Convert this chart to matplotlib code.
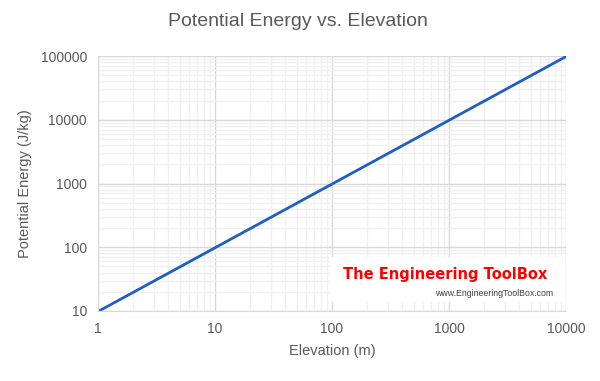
import matplotlib
matplotlib.use("Agg")
import matplotlib.pyplot as plt
from matplotlib import font_manager
from matplotlib.ticker import LogLocator, FixedLocator, NullFormatter

elevation = [1, 10, 100, 1000, 10000]
energy = [9.81, 98.1, 981, 9810, 98100]
xticks = [1, 10, 100, 1000, 10000]
yticks = [10, 100, 1000, 10000, 100000]

plt.rcParams['font.family'] = ['Liberation Sans', 'DejaVu Sans']
fig = plt.figure(figsize=(6, 3.81), dpi=100)
ax = fig.add_axes([98/600, 1-311/381, (566-98)/600, (311-56)/381])
ax.plot(elevation, energy, color='#1f5fc0', lw=2, clip_on=True)
ax.set_xscale('log')
ax.set_yscale('log')
ax.set_xlim(1, 10000)
ax.set_ylim(10, 100000)
ax.xaxis.set_major_locator(FixedLocator(xticks))
ax.yaxis.set_major_locator(FixedLocator(yticks))
ax.set_xticklabels([str(v) for v in xticks])
ax.set_yticklabels([str(v) for v in yticks])
ax.xaxis.set_minor_locator(LogLocator(base=10, subs=range(2, 10)))
ax.yaxis.set_minor_locator(LogLocator(base=10, subs=range(2, 10)))
ax.xaxis.set_minor_formatter(NullFormatter())
ax.yaxis.set_minor_formatter(NullFormatter())
ax.grid(which='major', color='#d9d9d9', lw=1)
ax.grid(which='minor', color='#f0f0f0', lw=1)
ax.set_axisbelow(True)
ax.tick_params(which='both', length=0, labelsize=10, colors='#595959', pad=8)
for s in ['top', 'right']:
    ax.spines[s].set_visible(False)
for s in ['left', 'bottom']:
    ax.spines[s].set_color('#d9d9d9')
ax.set_xlabel('Elevation (m)', fontsize=10.5, color='#595959', labelpad=6)
ax.set_ylabel('Potential Energy (J/kg)', fontsize=10.5, color='#595959', labelpad=6)
fig.text(298/600, 1-22/381, 'Potential Energy vs. Elevation', ha='center', va='center',
         fontsize=14, color='#595959')

# watermark
fig.patches.append(plt.Rectangle((330/600, 1-302/381), 235/600, 45/381,
                                 transform=fig.transFigure, facecolor='white',
                                 edgecolor='none', zorder=5))
names = {f.name for f in font_manager.fontManager.ttflist}
if 'Liberation Sans Narrow' in names:
    wm_family, wm_size = ['Liberation Sans Narrow'], 15
else:
    wm_family, wm_size = ['DejaVu Sans'], 10.5
t = fig.text(343/600, 1-275/381, 'The Engineering ToolBox', ha='left', va='center',
             fontsize=wm_size, color='#ff0000', fontweight='bold',
             family=wm_family, zorder=6)
fig.text(553/600, 1-294/381, 'www.EngineeringToolBox.com', ha='right', va='center',
         fontsize=6.3, color='#404040', zorder=6)

fig.savefig('out.png', dpi=100)
